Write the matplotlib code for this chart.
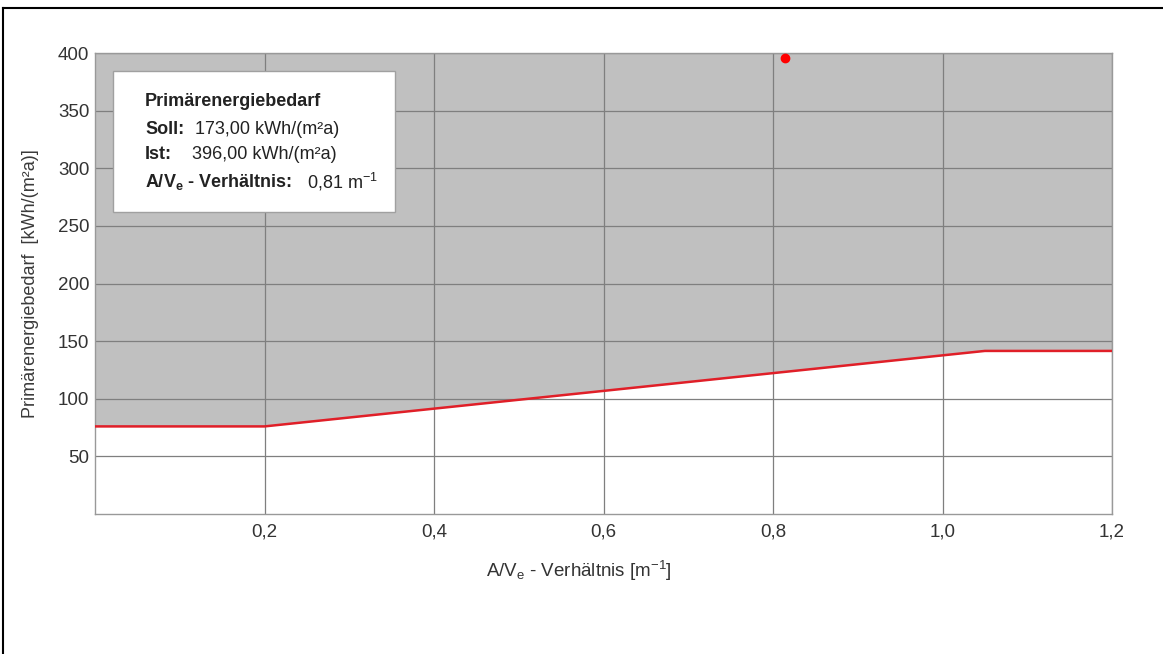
import matplotlib
matplotlib.use("Agg")
import matplotlib.pyplot as plt
from matplotlib.lines import Line2D
from matplotlib.patches import Rectangle

plt.rcParams["font.family"] = ["Liberation Sans", "DejaVu Sans"]
plt.rcParams["mathtext.default"] = "regular"

# limit curve (Soll) and actual value (Ist)
av_ratio = [0.0, 0.2, 1.05, 1.2]
qp_limit = [76.0, 76.0, 141.5, 141.5]
ist_av = [0.814]
ist_qp = [396.0]

x_ticks = [0.2, 0.4, 0.6, 0.8, 1.0, 1.2]
x_ticklabels = ["0,2", "0,4", "0,6", "0,8", "1,0", "1,2"]
y_ticks = [50, 100, 150, 200, 250, 300, 350, 400]

W, H = 1163, 654
fig = plt.figure(figsize=(W / 100, H / 100), dpi=100)
ax = fig.add_axes([95 / W, 1 - 514 / H, (1112 - 95) / W, (514 - 53) / H])

ax.fill_between(av_ratio, qp_limit, 400, color="#c0c0c0", lw=0, zorder=1)
ax.plot(av_ratio, qp_limit, color="#e01f28", lw=1.8, zorder=3)
ax.plot(ist_av, ist_qp, "o", color="#ff0000", ms=6, zorder=4, clip_on=False)

ax.set_xlim(0, 1.2)
ax.set_ylim(0, 400)
ax.set_xticks(x_ticks)
ax.set_xticklabels(x_ticklabels)
ax.set_yticks(y_ticks)
ax.grid(True, color="#7f7f7f", lw=0.9)
ax.tick_params(length=0, labelsize=13.5, colors="#333333")
ax.tick_params(axis="x", pad=7)
ax.tick_params(axis="y", pad=4)
for s in ax.spines.values():
    s.set_color("#999999")
    s.set_linewidth(1.0)

fig.text(31 / W, 1 - 284 / H, "Primärenergiebedarf  [kWh/(m²a)]", rotation=90,
         ha="center", va="center", fontsize=13, color="#3a3a3a")
fig.text(579 / W, 1 - 571 / H, r"A/V$_{e}$ - Verhältnis [m$^{-1}$]",
         ha="center", va="center", fontsize=13.5, color="#333333")

# info box
fig.patches.append(Rectangle((113 / W, 1 - 212 / H), (395 - 113) / W, (212 - 71) / H,
                             transform=fig.transFigure, facecolor="white",
                             edgecolor="#a0a0a0", lw=1.0, zorder=5))
tkw = dict(fontsize=13, color="#222222", va="center", zorder=6)
fig.text(145 / W, 1 - 102 / H, "Primärenergiebedarf", fontweight="bold", **tkw)
fig.text(145 / W, 1 - 129 / H, "Soll:", fontweight="bold", **tkw)
fig.text(195 / W, 1 - 129 / H, "173,00 kWh/(m²a)", **tkw)
fig.text(145 / W, 1 - 155 / H, "Ist:", fontweight="bold", **tkw)
fig.text(192 / W, 1 - 155 / H, "396,00 kWh/(m²a)", **tkw)
fig.text(145 / W, 1 - 182 / H, r"A/V$_{e}$ - Verhältnis:", fontweight="bold", **tkw)
fig.text(307 / W, 1 - 182 / H, r"0,81 m$^{-1}$", **tkw)

# page frame
fig.lines.append(Line2D([3 / W, 1], [1 - 8 / H, 1 - 8 / H], transform=fig.transFigure,
                        color="black", lw=1.5))
fig.lines.append(Line2D([3 / W, 3 / W], [0, 1 - 8 / H], transform=fig.transFigure,
                        color="black", lw=1.5))

fig.savefig("out.png", dpi=100)
